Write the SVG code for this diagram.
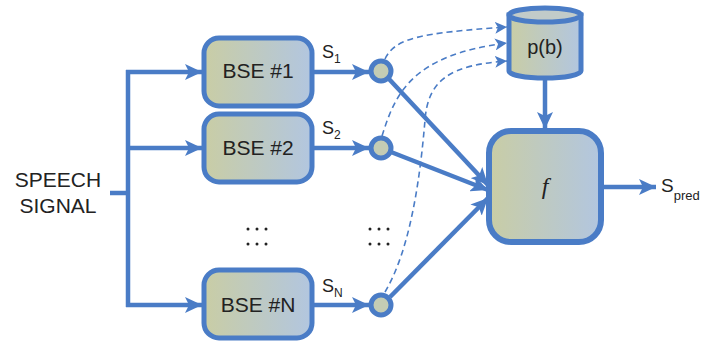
<svg xmlns="http://www.w3.org/2000/svg" width="706" height="346" viewBox="0 0 706 346">
<style>
.box{fill:url(#g);stroke:#4a7cc6;stroke-width:5}
.ln{fill:none;stroke:#4a7cc6;stroke-width:4.5;marker-end:url(#ah)}
.pl{fill:none;stroke:#4a7cc6;stroke-width:4.5}
.ds{fill:none;stroke:#4a7cc6;stroke-width:1.6;stroke-dasharray:6,4;marker-end:url(#ahs)}
.t{font-family:"Liberation Sans",Arial,sans-serif;fill:#222}
.dot{fill:#222}
</style>
<defs>
<linearGradient id="g" x1="0" y1="0" x2="1" y2="0">
<stop offset="0" stop-color="#c9cda5"/>
<stop offset="1" stop-color="#b2c6e0"/>
</linearGradient>
<marker id="ah" markerUnits="userSpaceOnUse" markerWidth="18" markerHeight="16" refX="17" refY="8" orient="auto">
<path d="M0,0 L17,8 L0,16 L4,8 z" fill="#4a7cc6"/>
</marker>
<marker id="ahs" markerUnits="userSpaceOnUse" markerWidth="13" markerHeight="12" refX="12" refY="6" orient="auto">
<path d="M0,0 L12,6 L0,12 L3,6 z" fill="#4a7cc6"/>
</marker>
</defs>
<g id="connectors">
<path class="pl" d="M110,193 H128"/>
<path class="pl" d="M128,70 V307"/>
<path class="ln" d="M126,72 H202"/>
<path class="ln" d="M128,148 H202"/>
<path class="ln" d="M126,305 H202"/>
<path class="ln" d="M312,72 H369"/>
<path class="ln" d="M312,148 H369"/>
<path class="ln" d="M312,305 H369"/>
<path class="ln" d="M389,79 L488,185"/>
<path class="ln" d="M391,152 L488,190"/>
<path class="ln" d="M390,297 L488,198"/>
<path class="ln" d="M545,79 V129"/>
<path class="ln" d="M603,187 H656"/>
<path class="ds" d="M385,59 C395,38 420,33 507,27"/>
<path class="ds" d="M382,136 C395,95 410,55 507,43"/>
<path class="ds" d="M385,292 C410,250 420,180 425,120 C428,80 450,65 507,61"/>
</g>
<g id="input">
<text class="t" x="58" y="187" font-size="21" text-anchor="middle">SPEECH</text>
<text class="t" x="58" y="213" font-size="21" text-anchor="middle">SIGNAL</text>
</g>
<g id="bse1">
<rect class="box" x="204" y="38" width="108" height="68" rx="15"/>
<text class="t" x="258" y="78" font-size="21" text-anchor="middle">BSE #1</text>
</g>
<g id="bse2">
<rect class="box" x="204" y="114" width="108" height="68" rx="15"/>
<text class="t" x="258" y="155" font-size="21" text-anchor="middle">BSE #2</text>
</g>
<g id="bseN">
<rect class="box" x="204" y="270" width="108" height="68" rx="15"/>
<text class="t" x="258" y="312" font-size="21" text-anchor="middle">BSE #N</text>
</g>
<g id="labels">
<text class="t" x="322" y="58" font-size="18">S<tspan font-size="12" dy="5">1</tspan></text>
<text class="t" x="322" y="134" font-size="18">S<tspan font-size="12" dy="5">2</tspan></text>
<text class="t" x="322" y="292" font-size="18">S<tspan font-size="12" dy="5">N</tspan></text>
<text class="t" x="661" y="192" font-size="19">S<tspan font-size="13" dy="8">pred</tspan></text>
</g>
<g id="c1"><circle cx="381" cy="71" r="10" fill="#c4ccb4" stroke="#4a7cc6" stroke-width="5"/></g>
<g id="c2"><circle cx="381" cy="148" r="10" fill="#c4ccb4" stroke="#4a7cc6" stroke-width="5"/></g>
<g id="cN"><circle cx="381" cy="305" r="10" fill="#c4ccb4" stroke="#4a7cc6" stroke-width="5"/></g>
<g id="dots">
<circle class="dot" cx="248" cy="229" r="1.5"/><circle class="dot" cx="257" cy="229" r="1.5"/><circle class="dot" cx="266" cy="229" r="1.5"/>
<circle class="dot" cx="248" cy="244" r="1.5"/><circle class="dot" cx="257" cy="244" r="1.5"/><circle class="dot" cx="266" cy="244" r="1.5"/>
<circle class="dot" cx="370" cy="229" r="1.5"/><circle class="dot" cx="379" cy="229" r="1.5"/><circle class="dot" cx="388" cy="229" r="1.5"/>
<circle class="dot" cx="370" cy="244" r="1.5"/><circle class="dot" cx="379" cy="244" r="1.5"/><circle class="dot" cx="388" cy="244" r="1.5"/>
</g>
<g id="pb">
<path d="M509,15 V71 A36,7 0 0 0 581,71 V15 Z" fill="url(#g)" stroke="#4a7cc6" stroke-width="5"/>
<ellipse cx="545" cy="15" rx="36" ry="7" fill="#c1cbc9" stroke="#4a7cc6" stroke-width="5"/>
<text class="t" x="545" y="54" font-size="20" text-anchor="middle">p(b)</text>
</g>
<g id="f">
<rect class="box" x="489" y="131" width="112" height="111" rx="22" style="stroke-width:6"/>
<text x="545" y="194" font-size="24" font-style="italic" text-anchor="middle" font-family="Liberation Serif, serif" fill="#222">f</text>
</g>
</svg>
